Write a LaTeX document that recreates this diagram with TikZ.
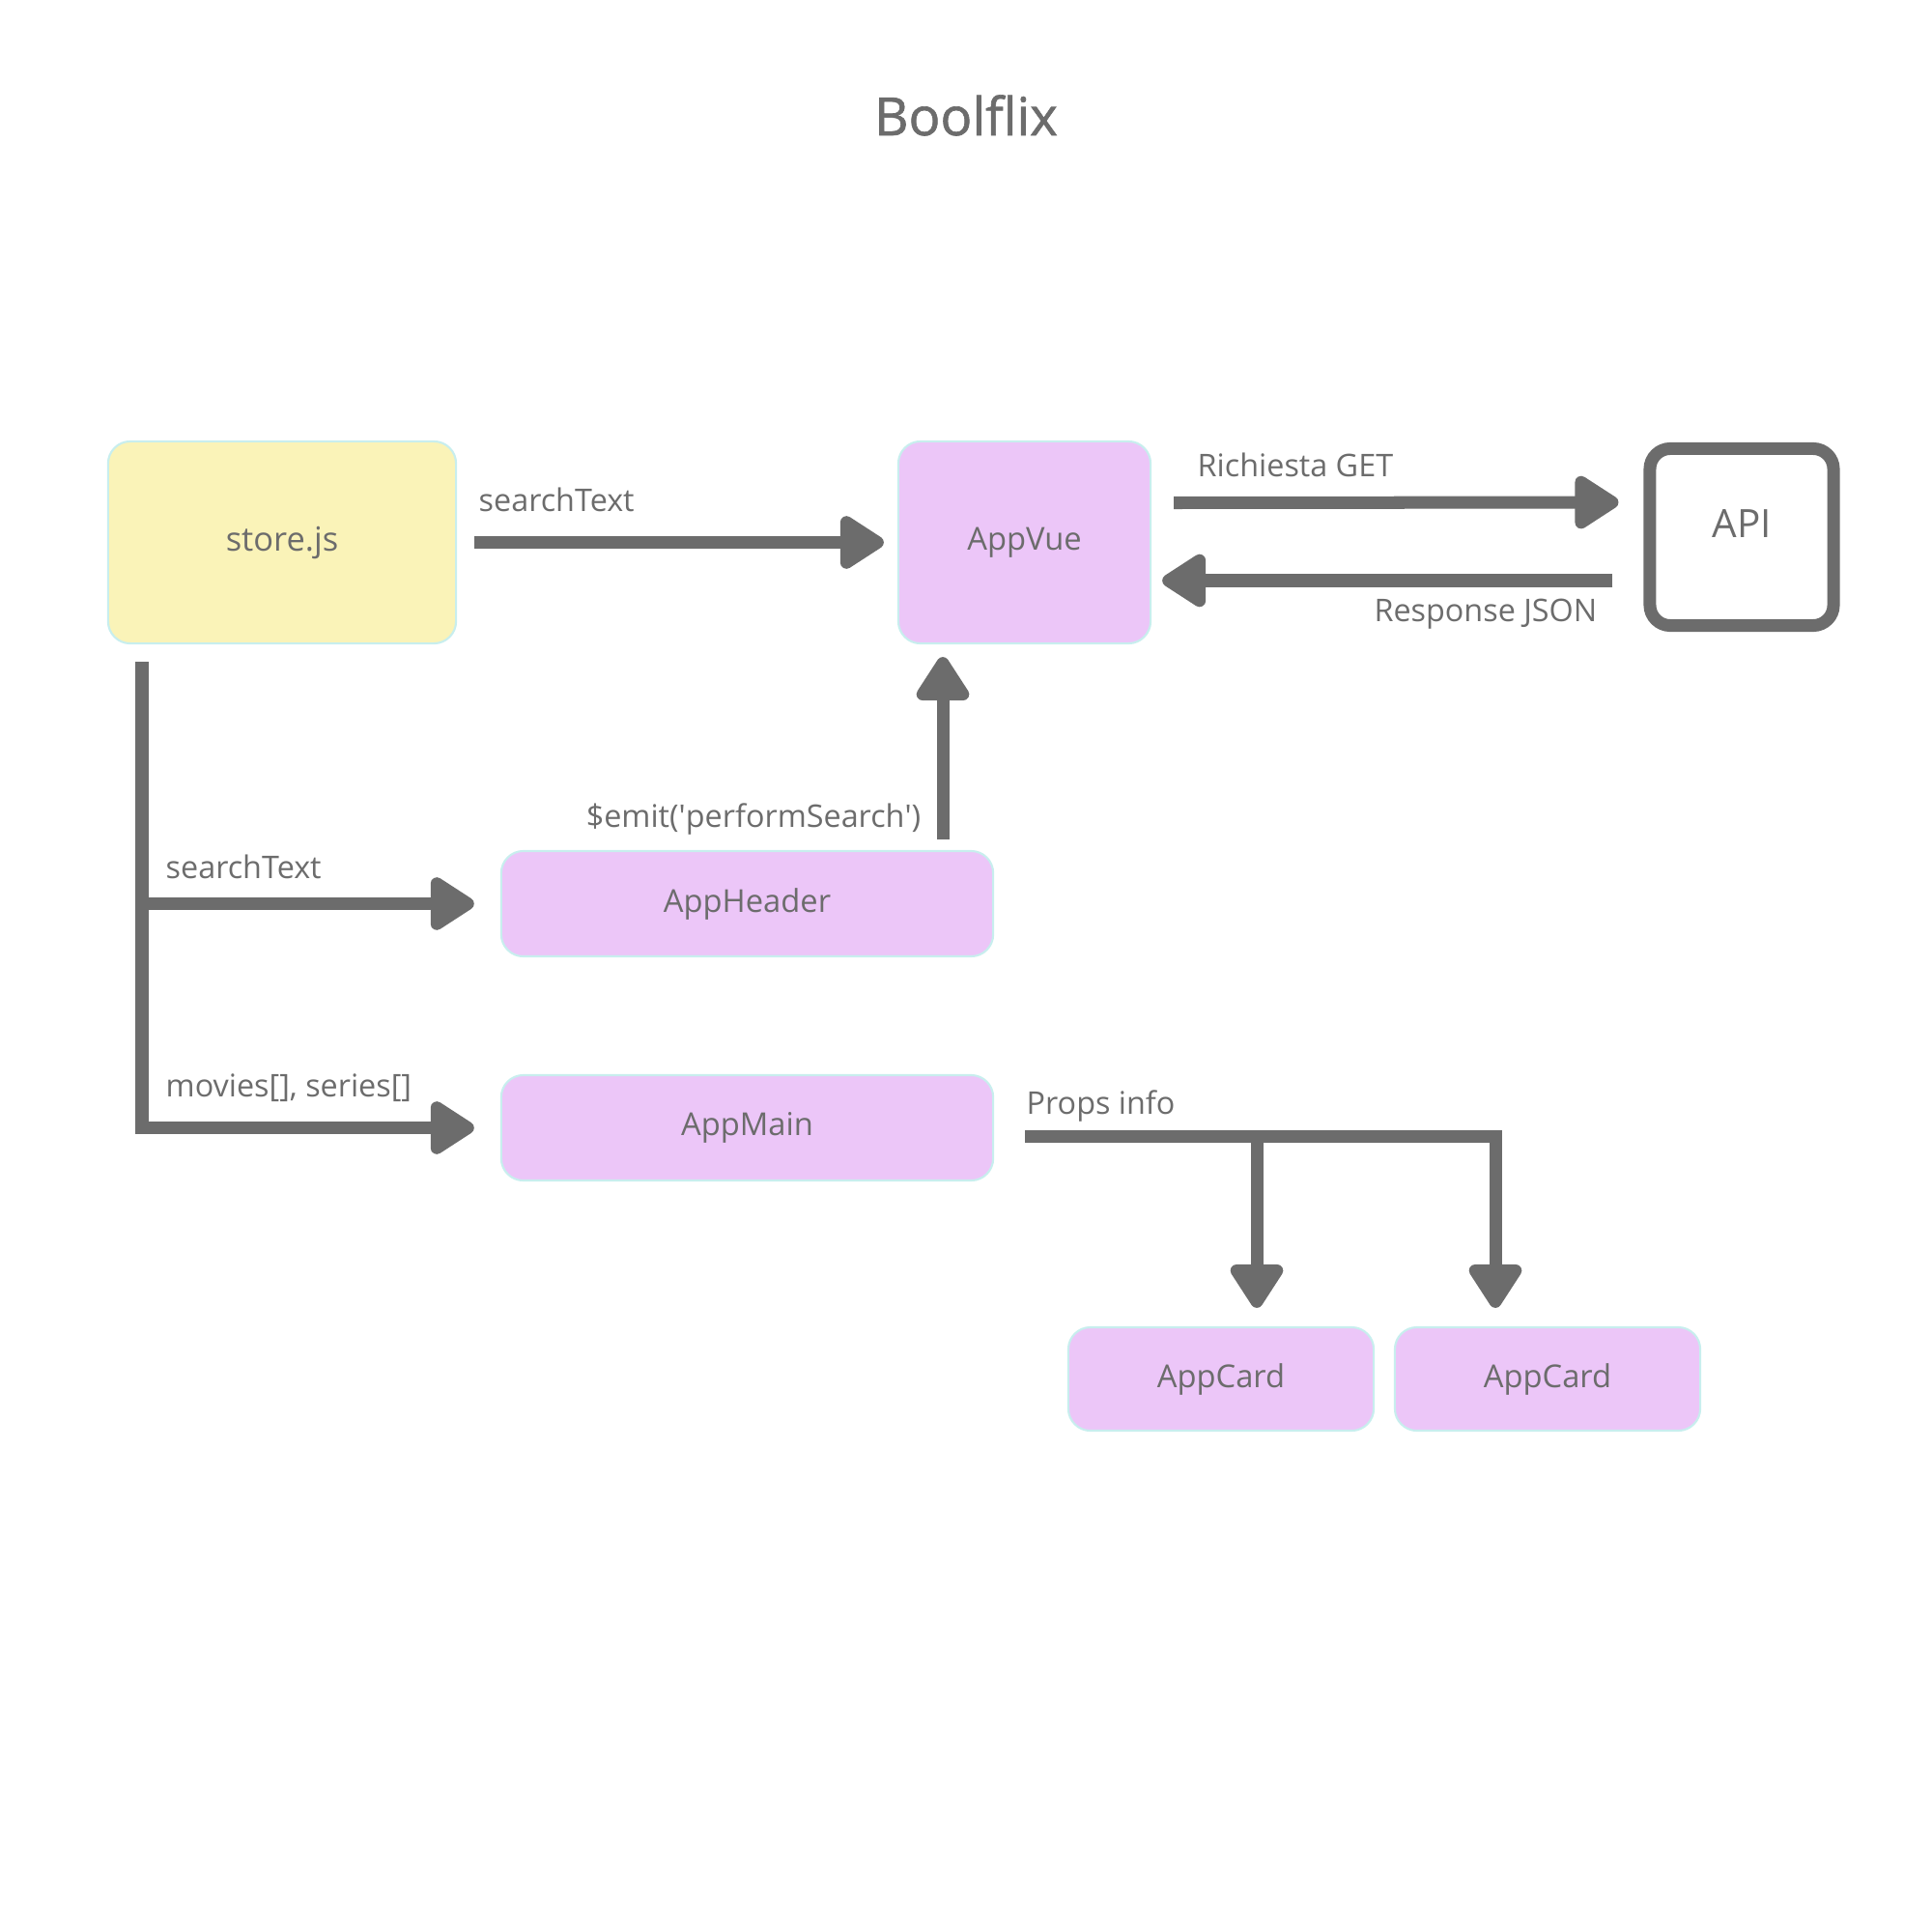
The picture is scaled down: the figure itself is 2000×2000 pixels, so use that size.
\documentclass[tikz,border=0pt]{standalone}
\usepackage{fontspec}
\setmainfont{Open Sans}
\newfontfamily\headfont{Open Sans}[FakeBold=1.2]
\usetikzlibrary{arrows.meta}
\definecolor{ink}{RGB}{108,108,108}
\definecolor{lilac}{RGB}{236,198,248}
\definecolor{cream}{RGB}{250,243,184}
\definecolor{rim}{RGB}{200,238,238}
\tikzset{
	comp/.style={draw=rim, line width=0.6pt, rounded corners=6.5pt, text=ink, inner sep=0pt, font=\fontsize{9.3}{11}\selectfont},
	pipe/.style={draw=ink, line width=3.7pt},
	flow/.style={pipe, -{Triangle[length=14.5pt,width=17.5pt,round]}},
	lbl/.style={text=ink, inner sep=0pt, font=\fontsize{9.2}{11}\selectfont},
}
\begin{document}
\begin{tikzpicture}[x=0.01cm, y=-0.01cm]
		\useasboundingbox (0,0) rectangle (2000,2000);
		\node[text=ink, anchor=base, font=\headfont\fontsize{15.5}{18}\selectfont] (title) at (1000,140) {Boolflix};
		\node[comp, fill=cream, minimum width=3.6cm, minimum height=2.09cm, font=\fontsize{9.8}{12}\selectfont] (store) at (292,561.5) {store.js};
		\node[comp, fill=lilac, minimum width=2.61cm, minimum height=2.09cm] (vue) at (1060.5,561.5) {AppVue};
		\node[draw=ink, line width=3.7pt, rounded corners=6pt, text=ink, minimum width=1.9cm, minimum height=1.83cm, text depth=8pt, font=\fontsize{11.5}{14}\selectfont] (api) at (1803,556) {API};
		\node[comp, fill=lilac, minimum width=5.09cm, minimum height=1.09cm] (head) at (773.5,935.5) {AppHeader};
		\node[comp, fill=lilac, minimum width=5.09cm, minimum height=1.09cm] (main) at (773.5,1167.5) {AppMain};
		\node[comp, fill=lilac, minimum width=3.16cm, minimum height=1.07cm] (card1) at (1264,1427.5) {AppCard};
		\node[comp, fill=lilac, minimum width=3.16cm, minimum height=1.07cm] (card2) at (1602,1427.5) {AppCard};
		\coordinate (trunk) at ([shift={(-145,18)}]store.south);
		\coordinate (bus) at ([shift={(32,9)}]main.east);
		\coordinate (drop) at ([shift={(37,-19)}]card1.north);
		\draw[flow] ([shift={(18,0)}]store.east) -- ([shift={(-14,0)}]vue.west);
		\draw[flow] ([shift={(23,-41)}]vue.east) -- ([shift={(-26,-36)}]api.west);
		\draw[flow] ([shift={(-32,45)}]api.west) -- ([shift={(11,39.5)}]vue.east);
		\draw[flow] ([shift={(202.5,-11)}]head.north) -- ([shift={(-84.5,13)}]vue.south);
		\draw[flow] (trunk) |- ([shift={(-27,0)}]main.west);
		\draw[flow] (trunk |- head.west) -- ([shift={(-27,0)}]head.west);
		\draw[flow] (bus) -| ([shift={(-54,-19)}]card2.north);
		\draw[flow] (drop |- bus) -- (drop);
		\node[lbl, anchor=west] (l1) at (495,517) {searchText};
		\node[lbl, anchor=west] (l2) at (1239,481) {Richiesta GET};
		\node[lbl, anchor=east] (l3) at (1654,636) {Response JSON};
		\node[lbl, anchor=east] (l4) at (954,848) {\$emit(\textquotesingle performSearch\textquotesingle)};
		\node[lbl, anchor=west] (l5) at (171,897) {searchText};
		\node[lbl, anchor=west] (l6) at (171,1126) {movies[], series[]};
		\node[lbl, anchor=west] (l7) at (1062,1145) {Props info};
\end{tikzpicture}
\end{document}
